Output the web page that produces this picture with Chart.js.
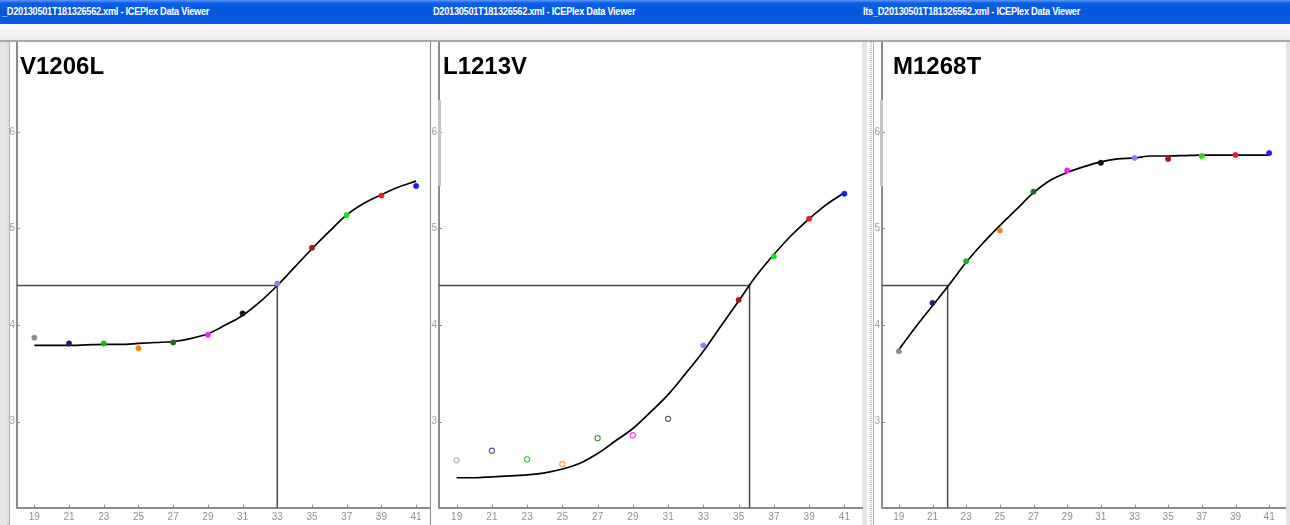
<!DOCTYPE html>
<html>
<head>
<meta charset="utf-8">
<script src="https://cdn.jsdelivr.net/npm/chart.js@4.4.1/dist/chart.umd.min.js"></script>
<style>
html, body { margin: 0; padding: 0; background: #fff; }
body { width: 1290px; height: 525px; position: relative; overflow: hidden; font-family: "Liberation Sans", Arial, sans-serif; }
.titlebar { position: absolute; left: 0; top: 0; width: 1290px; height: 24px;
  background: linear-gradient(#5a9af2 0, #0b5fe8 3px, #0656de 55%, #0a5ae2 100%); }
.titlebar span { position: absolute; top: 6px; color: #fff; font-weight: bold; font-size: 10px;
  letter-spacing: -0.3px; white-space: nowrap; transform-origin: left center; transform: scaleX(0.92); }
.toolbar { position: absolute; left: 0; top: 24px; width: 1290px; height: 16px;
  background: linear-gradient(#fdfdfd, #ebebeb); border-bottom: 2px solid #a9a9a9; }
.strip { position: absolute; top: 42px; height: 483px; }
.ptitle { position: absolute; top: 54px; font-weight: bold; font-size: 24px; line-height: 24px; color: #000; }
canvas { position: absolute; top: 42px; }
</style>
</head>
<body>
<div class="titlebar">
  <span style="left:2px">_D20130501T181326562.xml - ICEPlex Data Viewer</span>
  <span style="left:433px">D20130501T181326562.xml - ICEPlex Data Viewer</span>
  <span style="left:863px">lts_D20130501T181326562.xml - ICEPlex Data Viewer</span>
</div>
<div class="toolbar"></div>

<div class="strip" style="left:0;width:7px;background:#e6e6e6"></div>
<div class="strip" style="left:7px;width:2px;background:repeating-linear-gradient(#c8c8c8 0 1px,#f4f4f4 1px 2px)"></div>
<div class="strip" style="left:9px;width:1px;background:#9fb3d6"></div>
<div class="strip" style="left:430px;width:1px;background:#8a8a8a"></div>
<div class="strip" style="left:862px;width:5px;background:#e4e4e4"></div>
<div class="strip" style="left:870px;width:2px;background:repeating-linear-gradient(#c8c8c8 0 1px,#f4f4f4 1px 2px)"></div>
<div class="strip" style="left:873px;width:1px;background:#9fb3d6"></div>
<div class="strip" style="left:1286px;width:4px;background:#e4e4e4"></div>

<canvas id="c1" width="430" height="483" style="left:0;width:430px;height:483px"></canvas>
<canvas id="c2" width="432" height="483" style="left:431px;width:432px;height:483px"></canvas>
<canvas id="c3" width="412" height="483" style="left:874px;width:412px;height:483px"></canvas>

<div class="strip" style="left:438px;width:3px;height:86px;top:100px;background:#c4c4c4"></div>
<div class="strip" style="left:880px;width:3px;height:86px;top:100px;background:#c4c4c4"></div>

<div class="ptitle" style="left:20px">V1206L</div>
<div class="ptitle" style="left:443px">L1213V</div>
<div class="ptitle" style="left:893px">M1268T</div>

<script>
// cycles and tick labels
const cycles = [19, 21, 23, 25, 27, 29, 31, 33, 35, 37, 39, 41];
const xTickLabels = [19, 21, 23, 25, 27, 29, 31, 33, 35, 37, 39, 41];
const yTickLabels = [3, 4, 5, 6];
const curveCycles = [19, 20, 21, 22, 23, 24, 25, 26, 27, 28, 29, 30, 31, 32, 33, 34, 35, 36, 37, 38, 39, 40, 41];

// measured points (one per cycle)
const v1206lPoints = [3.87, 3.81, 3.81, 3.76, 3.82, 3.90, 4.12, 4.43, 4.80, 5.14, 5.34, 5.44];
const l1213vPoints = [2.60, 2.70, 2.61, 2.56, 2.83, 2.86, 3.03, 3.79, 4.26, 4.71, 5.10, 5.36];
const m1268tPoints = [3.73, 4.23, 4.66, 4.98, 5.38, 5.60, 5.68, 5.73, 5.72, 5.75, 5.76, 5.78];

// fitted curves
const v1206lCurve = [3.79, 3.79, 3.79, 3.795, 3.80, 3.80, 3.81, 3.82, 3.83, 3.86, 3.91, 4.00, 4.10, 4.24, 4.41, 4.60, 4.79, 4.97, 5.14, 5.26, 5.35, 5.43, 5.49];
const l1213vCurve = [2.42, 2.42, 2.43, 2.44, 2.45, 2.47, 2.51, 2.57, 2.67, 2.80, 2.93, 3.10, 3.28, 3.50, 3.73, 3.99, 4.25, 4.51, 4.73, 4.93, 5.10, 5.25, 5.37];
const m1268tCurve = [3.745, 3.98, 4.20, 4.42, 4.65, 4.85, 5.03, 5.20, 5.37, 5.50, 5.58, 5.64, 5.69, 5.72, 5.73, 5.75, 5.75, 5.755, 5.76, 5.76, 5.76, 5.76, 5.76];

// threshold and crossing cycle per panel
const threshold = 4.41;
const ctValues = [33.0, 35.62, 21.9];
// how many leading points are drawn hollow
const hollowCounts = [0, 7, 0];

const pointColors = ['#8c8c8c', '#1c1c70', '#1fb01f', '#f0871a', '#1d6b1d', '#ff1fff',
                     '#111111', '#8484f2', '#a31818', '#1fe01f', '#e81e1e', '#1a1aff'];
const hollowColors = ['#b0b0b0', '#5a5aa8', '#3cc03c', '#f2a352', '#3d8d3d', '#ff3cff',
                      '#5a5a5a', '#8484f2', '#a31818', '#1fe01f', '#e81e1e', '#1a1aff'];

const yMin = 2.11, yMax = 6.93;

const innerTicks = {
  id: 'innerTicks',
  beforeDatasetsDraw(chart) {
    const { ctx, scales: { x, y } } = chart;
    ctx.save();
    ctx.strokeStyle = '#8a8a8a';
    ctx.lineWidth = 1;
    ctx.beginPath();
    x.ticks.forEach(t => {
      const px = Math.round(x.getPixelForValue(t.value)) + 0.5;
      ctx.moveTo(px, y.bottom); ctx.lineTo(px, y.bottom - 3);
    });
    y.ticks.forEach(t => {
      const py = Math.round(y.getPixelForValue(t.value)) + 0.5;
      ctx.moveTo(x.left, py); ctx.lineTo(x.left + 3, py);
    });
    ctx.stroke();
    ctx.restore();
  }
};

function makePanel(id, points, curve, hollow, ct, yAxisWidth, padRight) {
  const pts = cycles.map((c, i) => ({ x: c, y: points[i] }));
  const bg = cycles.map((c, i) => i < hollow ? '#ffffff' : pointColors[i]);
  const bc = cycles.map((c, i) => i < hollow ? hollowColors[i] : pointColors[i]);
  const rad = cycles.map((c, i) => i < hollow ? 2.6 : 2.7);
  const bw = cycles.map((c, i) => i < hollow ? 1.1 : 0.5);
  new Chart(document.getElementById(id), {
    type: 'scatter',
    data: {
      datasets: [
        { data: pts, backgroundColor: bg, borderColor: bc, pointRadius: rad, borderWidth: bw },
        { data: curveCycles.map((c, i) => ({ x: c, y: curve[i] })), showLine: true,
          borderColor: '#000', borderWidth: 1.7, pointRadius: 0, cubicInterpolationMode: 'monotone' },
        { data: [{ x: 18, y: threshold }, { x: ct, y: threshold }, { x: ct, y: yMin }], showLine: true,
          borderColor: '#4a4a4a', borderWidth: 1.5, pointRadius: 0, tension: 0 }
      ]
    },
    options: {
      responsive: false, animation: false,
      layout: { padding: { left: 0, right: padRight, top: 0, bottom: 0 }, autoPadding: false },
      plugins: { legend: { display: false }, tooltip: { enabled: false } },
      scales: {
        x: {
          type: 'linear', min: 18, max: id === 'c1' ? 41.8 : 42,
          grid: { display: false, drawTicks: false },
          border: { display: true, color: '#8c8c8c', width: 2 },
          ticks: { color: '#8f8f8f', font: { family: 'Liberation Sans', size: 10 }, padding: 4, maxRotation: 0 },
          afterBuildTicks: s => { s.ticks = xTickLabels.map(v => ({ value: v })); },
          afterFit: s => { s.height = 17.3; s.paddingLeft = 0; s.paddingRight = 0; }
        },
        y: {
          type: 'linear', min: yMin, max: yMax,
          grid: { display: false, drawTicks: false },
          border: { display: true, color: '#8c8c8c', width: 2 },
          ticks: { color: '#a0a0a0', font: { family: 'Liberation Sans', size: 10 }, padding: 2 },
          afterBuildTicks: s => { s.ticks = yTickLabels.map(v => ({ value: v })); },
          afterFit: s => { s.width = yAxisWidth; s.paddingTop = 0; s.paddingBottom = 0; }
        }
      }
    },
    plugins: [innerTicks]
  });
}

makePanel('c1', v1206lPoints, v1206lCurve, hollowCounts[0], ctValues[0], 17, 0);
makePanel('c2', l1213vPoints, l1213vCurve, hollowCounts[1], ctValues[1], 8, 1);
makePanel('c3', m1268tPoints, m1268tCurve, hollowCounts[2], ctValues[2], 8, 0);
</script>
</body>
</html>
